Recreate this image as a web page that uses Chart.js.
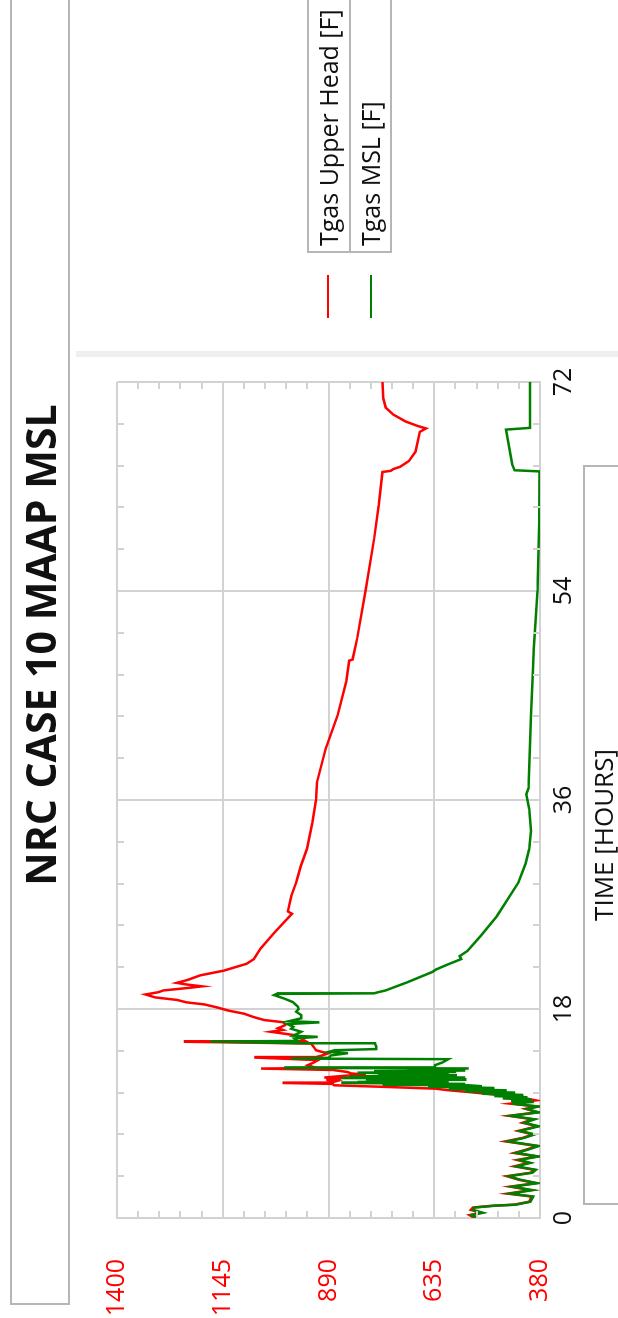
<!DOCTYPE html>
<html>
<head>
<meta charset="utf-8">
<script src="https://cdn.jsdelivr.net/npm/chart.js@4.4.1/dist/chart.umd.min.js"></script>
<style>
  html, body { margin: 0; padding: 0; background: #fff; overflow: hidden; width: 618px; height: 1318px; }
  #rot { position: absolute; left: 0; top: 0; width: 1318px; height: 618px;
         transform-origin: 0 0; transform: translate(0px, 1318px) rotate(-90deg);
         font-family: "Open Sans", "Noto Sans", sans-serif; color: #111; }
  #cv { position: absolute; left: 0; top: 0; }
  .box { position: absolute; border: 2px solid #b6b6ba; box-sizing: border-box; }
  #titleText { position: absolute; left: 273px; width: 800px; top: 10px; height: 60px; line-height: 60px;
               text-align: center; font-size: 41px; font-weight: 700; color: #111; white-space: nowrap; }
  .legTxt { position: absolute; left: 1072px; font-size: 25px; line-height: 42px; height: 42px; white-space: nowrap; color: #111; }
  .legLine { position: absolute; left: 1000px; width: 43px; height: 2px; }
  #xTitle { position: absolute; left: 113px; width: 740px; top: 585px; height: 36px; line-height: 36px;
            text-align: center; font-size: 26px; color: #111; white-space: nowrap; }
  #split { position: absolute; left: 961px; top: 76px; width: 6px; height: 560px; background: #efefef; }
</style>
</head>
<body>
<div id="rot">
  <canvas id="cv" width="1318" height="618"></canvas>
  <div class="box" style="left:13px; top:10px; width:1330px; height:60px;"></div>
  <div id="titleText">NRC CASE 10 MAAP MSL</div>
  <div id="split"></div>
  <div class="box" style="left:1065px; top:307px; width:280px; height:44px;"></div>
  <div class="box" style="left:1065px; top:349px; width:280px; height:43px;"></div>
  <div class="legTxt" style="top:307px;">Tgas Upper Head [F]</div>
  <div class="legTxt" style="top:349px;">Tgas MSL [F]</div>
  <div class="legLine" style="top:327px; background:#ff0000;"></div>
  <div class="legLine" style="top:370px; background:#008000;"></div>
  <div class="box" style="left:113px; top:583px; width:740px; height:60px;"></div>
  <div id="xTitle">TIME [HOURS]</div>
</div>
<script>
// ---- data (time in hours, temperature in F) ----
const seriesNames = ["Tgas Upper Head [F]", "Tgas MSL [F]"];
const xTickLabels = [0, 18, 36, 54, 72];
const yTickLabels = [380, 635, 890, 1145, 1400];

const timeUpperHead = [
  0.0, 0.25, 0.45, 0.7, 0.9, 1.05, 1.15, 1.4, 1.85, 2.1, 2.4, 2.7, 3.0, 3.3, 3.6, 3.9, 4.15, 4.45, 4.75, 5.0,
  5.3, 5.6, 5.9, 6.2, 6.6, 6.9, 7.2, 7.5, 7.9, 8.2, 8.5, 8.8, 9.1, 9.4, 9.6, 9.85, 10.13, 10.42, 10.6, 10.85,
  11.0, 11.14, 11.3, 11.43, 11.55, 11.63, 11.66, 11.8, 11.9, 12.0, 12.1, 12.25, 12.35, 12.45, 12.58, 12.75, 12.87, 12.92, 13.16, 13.4,
  13.6, 13.82, 13.86, 14.0, 14.17, 14.35, 14.45, 14.7, 15.03, 15.18, 15.22, 15.46, 15.75, 16.04, 16.2, 16.35, 16.6, 16.85, 17.05, 17.3,
  17.6, 17.86, 18.14, 18.4, 18.57, 18.78, 19.0, 19.25, 19.45, 19.6, 19.8, 19.95, 20.1, 20.25, 20.5, 20.9, 21.3, 21.9, 22.3, 23.2,
  24.6, 26.2, 26.4, 27.7, 29.0, 30.3, 31.8, 34.0, 36.0, 37.5, 40.4, 43.3, 46.2, 48.0, 48.1, 49.9, 54.0, 58.5, 61.4, 64.25,
  64.35, 64.5, 64.7, 65.2, 66.0, 67.7, 68.0, 68.2, 68.6, 69.2, 69.8, 70.6, 72.0
];
const tempUpperHead = [
  538, 550, 522, 547, 542, 497, 442, 406, 400, 458, 402, 452, 390, 432, 460, 402, 394, 442, 407, 435,
  386, 442, 412, 387, 463, 422, 397, 432, 386, 422, 397, 455, 386, 415, 386, 452, 390, 431, 480, 552,
  600, 633, 760, 876, 880, 1001, 885, 870, 895, 860, 900, 850, 800, 835, 845, 880, 1053, 920, 940, 925,
  915, 1069, 920, 905, 892, 910, 920, 925, 932, 1239, 945, 956, 972, 1029, 1000, 1012, 995, 997, 1045, 1070,
  1094, 1131, 1159, 1190, 1232, 1255, 1308, 1331, 1300, 1288, 1232, 1195, 1230, 1256, 1230, 1199, 1143, 1087, 1070, 1054,
  1020, 978, 988, 980, 967, 957, 942, 929, 920, 918, 897, 868, 847, 840, 832, 821, 801, 780, 769, 760,
  740, 734, 717, 696, 680, 670, 655, 674, 704, 734, 752, 758, 760
];

const timeMSL = [
  0.0, 0.25, 0.45, 0.7, 0.9, 1.05, 1.15, 1.4, 1.85, 2.1, 2.4, 2.7, 3.0, 3.3, 3.6, 3.9, 4.15, 4.45, 4.75, 5.0,
  5.3, 5.6, 5.9, 6.2, 6.6, 6.9, 7.2, 7.5, 7.9, 8.2, 8.5, 8.8, 9.1, 9.4, 9.6, 9.85, 10.0, 10.1, 10.2, 10.3,
  10.4, 10.5, 10.6, 10.7, 10.8, 10.9, 11.0, 11.1, 11.2, 11.3, 11.35, 11.43, 11.47, 11.5, 11.55, 11.63, 11.67, 11.72, 11.8, 11.86,
  11.9, 11.95, 12.0, 12.05, 12.1, 12.17, 12.24, 12.3, 12.38, 12.45, 12.52, 12.58, 12.65, 12.7, 12.8, 12.88, 12.93, 12.97, 13.16, 13.4,
  13.68, 13.73, 13.8, 14.0, 14.2, 14.3, 14.45, 14.55, 14.8, 15.0, 15.05, 15.2, 15.25, 15.46, 15.6, 15.7, 16.04, 16.3, 16.47, 16.7,
  16.85, 16.95, 17.2, 17.48, 17.77, 18.0, 18.2, 18.6, 18.9, 19.2, 19.3, 19.35, 19.45, 19.6, 20.3, 21.2, 21.4, 21.8, 22.3, 22.55,
  23.0, 24.3, 26.0, 28.9, 30.5, 31.8, 33.35, 35.2, 36.5, 37.0, 43.3, 47.3, 49.0, 54.0, 60.0, 64.3, 64.4, 64.9, 67.9, 68.05,
  72.0
];
const tempMSL = [
  532, 545, 518, 542, 538, 492, 438, 403, 396, 452, 398, 447, 386, 428, 455, 398, 390, 437, 403, 430,
  383, 437, 408, 383, 457, 418, 393, 428, 383, 418, 393, 450, 383, 412, 383, 447, 395, 450, 400, 470,
  410, 490, 420, 520, 440, 560, 460, 600, 490, 650, 520, 552, 760, 700, 560, 859, 600, 820, 620, 740,
  560, 800, 640, 860, 560, 840, 770, 580, 760, 600, 820, 585, 780, 560, 700, 552, 997, 633, 633, 615,
  601, 981, 890, 884, 843, 890, 875, 775, 775, 778, 960, 1175, 965, 972, 916, 975, 956, 980, 975, 989,
  912, 985, 956, 956, 968, 962, 964, 976, 997, 1021, 1015, 780, 770, 752, 700, 639, 631, 605, 570, 574,
  555, 523, 484, 432, 415, 406, 402, 406, 413, 408, 402, 397, 395, 386, 382, 381, 441, 447, 462, 404,
  404
];

// ---- styles ----
const GRID = '#d2d2d2';
const Y_MINOR = 51;    // minor tick spacing on temperature axis
const X_MINOR = 3.6;   // minor tick spacing on time axis

const toXY = (ts, vs) => ts.map((t, i) => ({ x: t, y: vs[i] }));

const minorTicks = {
  id: 'minorTicks',
  afterDatasetsDraw(chart) {
    const { ctx, chartArea: a, scales: { x, y } } = chart;
    ctx.save();
    ctx.strokeStyle = GRID;
    ctx.lineWidth = 2;
    const L = 7;
    const y0 = yTickLabels[0], y1 = yTickLabels[yTickLabels.length - 1];
    for (let v = y0 + Y_MINOR; v < y1 - 1e-6; v += Y_MINOR) {
      if (yTickLabels.some(t => Math.abs(t - v) < 1e-6)) continue;
      const p = Math.round(y.getPixelForValue(v));
      ctx.beginPath();
      ctx.moveTo(a.left, p); ctx.lineTo(a.left + L, p);
      ctx.moveTo(a.right, p); ctx.lineTo(a.right - L, p);
      ctx.stroke();
    }
    const x0 = xTickLabels[0], x1 = xTickLabels[xTickLabels.length - 1];
    for (let v = x0 + X_MINOR; v < x1 - 1e-6; v += X_MINOR) {
      if (xTickLabels.some(t => Math.abs(t - v) < 1e-6)) continue;
      const p = Math.round(x.getPixelForValue(v));
      ctx.beginPath();
      ctx.moveTo(p, a.top); ctx.lineTo(p, a.top + L);
      ctx.moveTo(p, a.bottom); ctx.lineTo(p, a.bottom - L);
      ctx.stroke();
    }
    ctx.restore();
  }
};

new Chart(document.getElementById('cv'), {
  type: 'line',
  data: {
    datasets: [
      { label: seriesNames[0], data: toXY(timeUpperHead, tempUpperHead), borderColor: '#ff0000',
        borderWidth: 2.5, pointRadius: 0, tension: 0, fill: false, order: 1 },
      { label: seriesNames[1], data: toXY(timeMSL, tempMSL), borderColor: '#008000',
        borderWidth: 2.5, pointRadius: 0, tension: 0, fill: false, order: 0 }
    ]
  },
  options: {
    responsive: false,
    devicePixelRatio: 1,
    animation: false,
    layout: { padding: { left: 0, right: 382, top: 117, bottom: 0 } },
    plugins: { legend: { display: false }, title: { display: false }, tooltip: { enabled: false } },
    scales: {
      x: {
        type: 'linear', min: xTickLabels[0], max: xTickLabels[xTickLabels.length - 1],
        afterBuildTicks: s => { s.ticks = xTickLabels.map(v => ({ value: v })); },
        afterFit: s => { s.height = 78; },
        grid: { color: GRID, lineWidth: 2, drawTicks: false },
        border: { color: GRID, width: 2 },
        ticks: { color: '#111', font: { family: 'Open Sans', size: 25 }, padding: 9, maxRotation: 0, autoSkip: false,
                 callback: v => String(v) }
      },
      y: {
        type: 'linear', min: yTickLabels[0], max: yTickLabels[yTickLabels.length - 1],
        afterBuildTicks: s => { s.ticks = yTickLabels.map(v => ({ value: v })); },
        afterFit: s => { s.width = 100; },
        grid: { color: GRID, lineWidth: 2, drawTicks: false },
        border: { color: GRID, width: 2 },
        ticks: { color: '#ff0000', font: { family: 'Open Sans', size: 25 }, padding: 41, autoSkip: false,
                 callback: v => String(v) }
      }
    }
  },
  plugins: [minorTicks]
});
</script>
</body>
</html>
